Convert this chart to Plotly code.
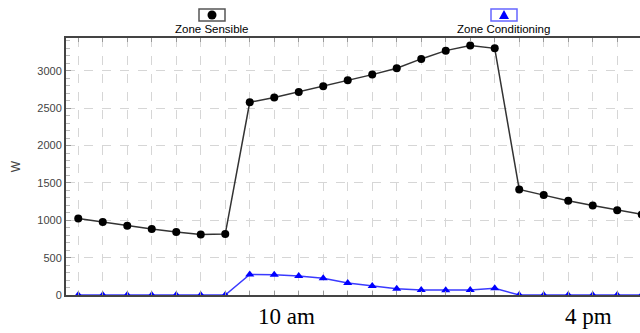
import plotly.graph_objects as go

hours = list(range(1, 25))
zone_sensible = [1025, 976, 926, 882, 842, 811, 815, 2580, 2643, 2718, 2794, 2874,
                 2950, 3035, 3160, 3271, 3338, 3302, 1413, 1337, 1261, 1199, 1136, 1079]
zone_conditioning = [0, 0, 0, 0, 0, 0, 0, 276, 272, 254, 223, 160,
                     120, 85, 67, 63, 67, 89, 0, 0, 0, 0, 0, 0]
y_ticks = [0, 500, 1000, 1500, 2000, 2500, 3000]
series_names = ["Zone Sensible", "Zone Conditioning"]
time_labels = ["10 am", "4 pm"]

fig = go.Figure()
fig.add_trace(go.Scatter(x=hours, y=zone_sensible, mode="lines+markers",
                         name=series_names[0],
                         line=dict(color="#333333", width=1.5),
                         marker=dict(symbol="circle", size=8, color="black")))
fig.add_trace(go.Scatter(x=hours, y=zone_conditioning, mode="lines+markers",
                         name=series_names[1],
                         line=dict(color="#3a3aff", width=1.5),
                         marker=dict(symbol="triangle-up", size=8, color="#0000ff")))

fig.update_layout(
    width=640, height=333,
    margin=dict(l=66, r=0, t=38, b=38, autoexpand=False),
    paper_bgcolor="white", plot_bgcolor="white",
    showlegend=False,
    font=dict(family="Liberation Sans, Arial, sans-serif", size=11, color="#444"),
)
fig.update_xaxes(range=[0.5, 23.93], tickmode="array", tickvals=hours, showticklabels=False,
                 showgrid=True, gridcolor="#d6d6d6", griddash="dash", gridwidth=1,
                 showline=True, linecolor="#444", linewidth=2, mirror="ticks",
                 ticks="inside", ticklen=4, tickcolor="#999", zeroline=False)
fig.update_yaxes(range=[0, 3440], tickmode="array", tickvals=y_ticks,
                 showgrid=True, gridcolor="#d6d6d6", griddash="dash", gridwidth=1,
                 showline=True, linecolor="#444", linewidth=2,
                 ticks="inside", ticklen=5, tickcolor="#999",
                 minor=dict(dtick=100, ticks="inside", ticklen=4, tickcolor="#bbb", showgrid=False),
                 zeroline=False,
                 title=dict(text="W", font=dict(size=12, color="#444"), standoff=14),
                 tickfont=dict(size=11, color="#444"))

# custom legend: boxed symbol above text
def px_x(v):
    return (v - 66) / 574

def px_y(v):
    return (295 - v) / 257

legend_items = [(212, "circle", "black", "#555"), (504, "triangle", "#0000ff", "#6666ff")]
for (cx, sym, col, boxcol), name in zip(legend_items, series_names):
    fig.add_shape(type="rect", xref="paper", yref="paper",
                  x0=px_x(cx - 13), x1=px_x(cx + 13),
                  y0=px_y(21), y1=px_y(9),
                  line=dict(color=boxcol, width=1.5), fillcolor="white")
    if sym == "circle":
        fig.add_shape(type="circle", xref="paper", yref="paper",
                      xsizemode="pixel", ysizemode="pixel",
                      xanchor=px_x(cx), yanchor=px_y(15),
                      x0=-4.5, x1=4.5, y0=-4.5, y1=4.5,
                      fillcolor=col, line=dict(color=col, width=0))
    else:
        fig.add_shape(type="path", xref="paper", yref="paper",
                      xsizemode="pixel", ysizemode="pixel",
                      xanchor=px_x(cx), yanchor=px_y(15),
                      path="M -5,-4 L 5,-4 L 0,5 Z",
                      fillcolor=col, line=dict(color=col, width=0))
    fig.add_annotation(x=px_x(cx), y=px_y(29), xref="paper", yref="paper",
                       text=name, showarrow=False,
                       font=dict(size=11.5, color="black"),
                       xanchor="center", yanchor="middle")

for cx, lbl in zip([286, 588], time_labels):
    fig.add_annotation(x=px_x(cx), y=px_y(316), xref="paper", yref="paper",
                       text=lbl, showarrow=False,
                       font=dict(family="Liberation Serif, Times New Roman, serif", size=23, color="black"),
                       xanchor="center", yanchor="middle")

fig.write_html("out.html", config={"displayModeBar": False},
               post_script="document.body.style.margin='0px';document.body.style.overflow='hidden';")
